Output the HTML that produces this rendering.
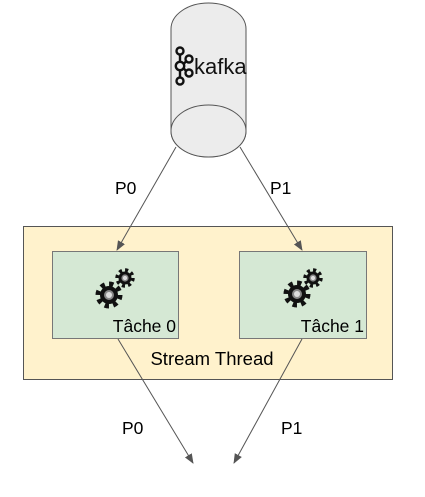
<!DOCTYPE html>
<html><head><style>
body{margin:0;background:#fff;width:425px;height:492px;overflow:hidden}
text{font-family:"Liberation Sans",Arial,sans-serif}
</style></head><body>
<svg width="425" height="492" xmlns="http://www.w3.org/2000/svg">
<defs>
<marker id="a" markerWidth="10" markerHeight="10" refX="9" refY="5" orient="auto" markerUnits="userSpaceOnUse">
<path d="M0,1 L10,5 L0,9 Z" fill="#555"/></marker>
<g id="gear">
<circle r="9" fill="#111"/>
<circle r="11" fill="none" stroke="#111" stroke-width="5" stroke-dasharray="4.3 4.3"/>
<circle r="5" fill="#888"/>
<circle r="3" fill="#ddd"/>
</g>
</defs>
<path d="M171,29 A37.5,26 0 0 1 246,29 L246,131 A37.5,26 0 0 1 171,131 Z" fill="#ececec" stroke="#555" stroke-width="1"/>
<ellipse cx="208.5" cy="131" rx="37.5" ry="26" fill="#ececec" stroke="#555"/>
<g stroke="#111" stroke-width="2.4" fill="none">
<circle cx="180" cy="51" r="3.5"/><circle cx="180" cy="66" r="4.2"/><circle cx="180" cy="81" r="3.5"/>
<circle cx="189" cy="59" r="3.5"/><circle cx="189" cy="73" r="3.5"/>
<line x1="180" y1="54.5" x2="180" y2="62"/><line x1="180" y1="70" x2="180" y2="77.5"/>
<line x1="183.5" y1="64" x2="186" y2="61.5"/><line x1="183.5" y1="68" x2="186" y2="71"/>
</g>
<text x="194" y="74" font-size="22" fill="#111">kafka</text>
<rect x="23.5" y="226.5" width="369" height="153" fill="#fff2cc" stroke="#555"/>
<rect x="52.5" y="251.5" width="126" height="87" fill="#d5e8d4" stroke="#777"/>
<rect x="239.5" y="251.5" width="127" height="87" fill="#d5e8d4" stroke="#777"/>
<use href="#gear" transform="translate(125,278) scale(0.72)"/>
<use href="#gear" transform="translate(109,295)"/>
<use href="#gear" transform="translate(313,278) scale(0.72)"/>
<use href="#gear" transform="translate(297,294)"/>
<text x="176" y="332" font-size="17.5" text-anchor="end" fill="#000">Tâche 0</text>
<text x="364" y="332" font-size="17.5" text-anchor="end" fill="#000">Tâche 1</text>
<text x="212" y="365" font-size="18.5" text-anchor="middle" fill="#000">Stream Thread</text>
<g stroke="#555" stroke-width="1" fill="none">
<line x1="176" y1="147" x2="117" y2="250" marker-end="url(#a)"/>
<line x1="240" y1="147" x2="302" y2="250" marker-end="url(#a)"/>
<line x1="118" y1="339" x2="193" y2="463" marker-end="url(#a)"/>
<line x1="302" y1="339" x2="234" y2="463" marker-end="url(#a)"/>
</g>
<text x="115" y="194" font-size="17.5">P0</text>
<text x="270" y="194" font-size="17.5">P1</text>
<text x="122" y="434" font-size="17.5">P0</text>
<text x="281" y="434" font-size="17.5">P1</text>
</svg>
</body></html>
